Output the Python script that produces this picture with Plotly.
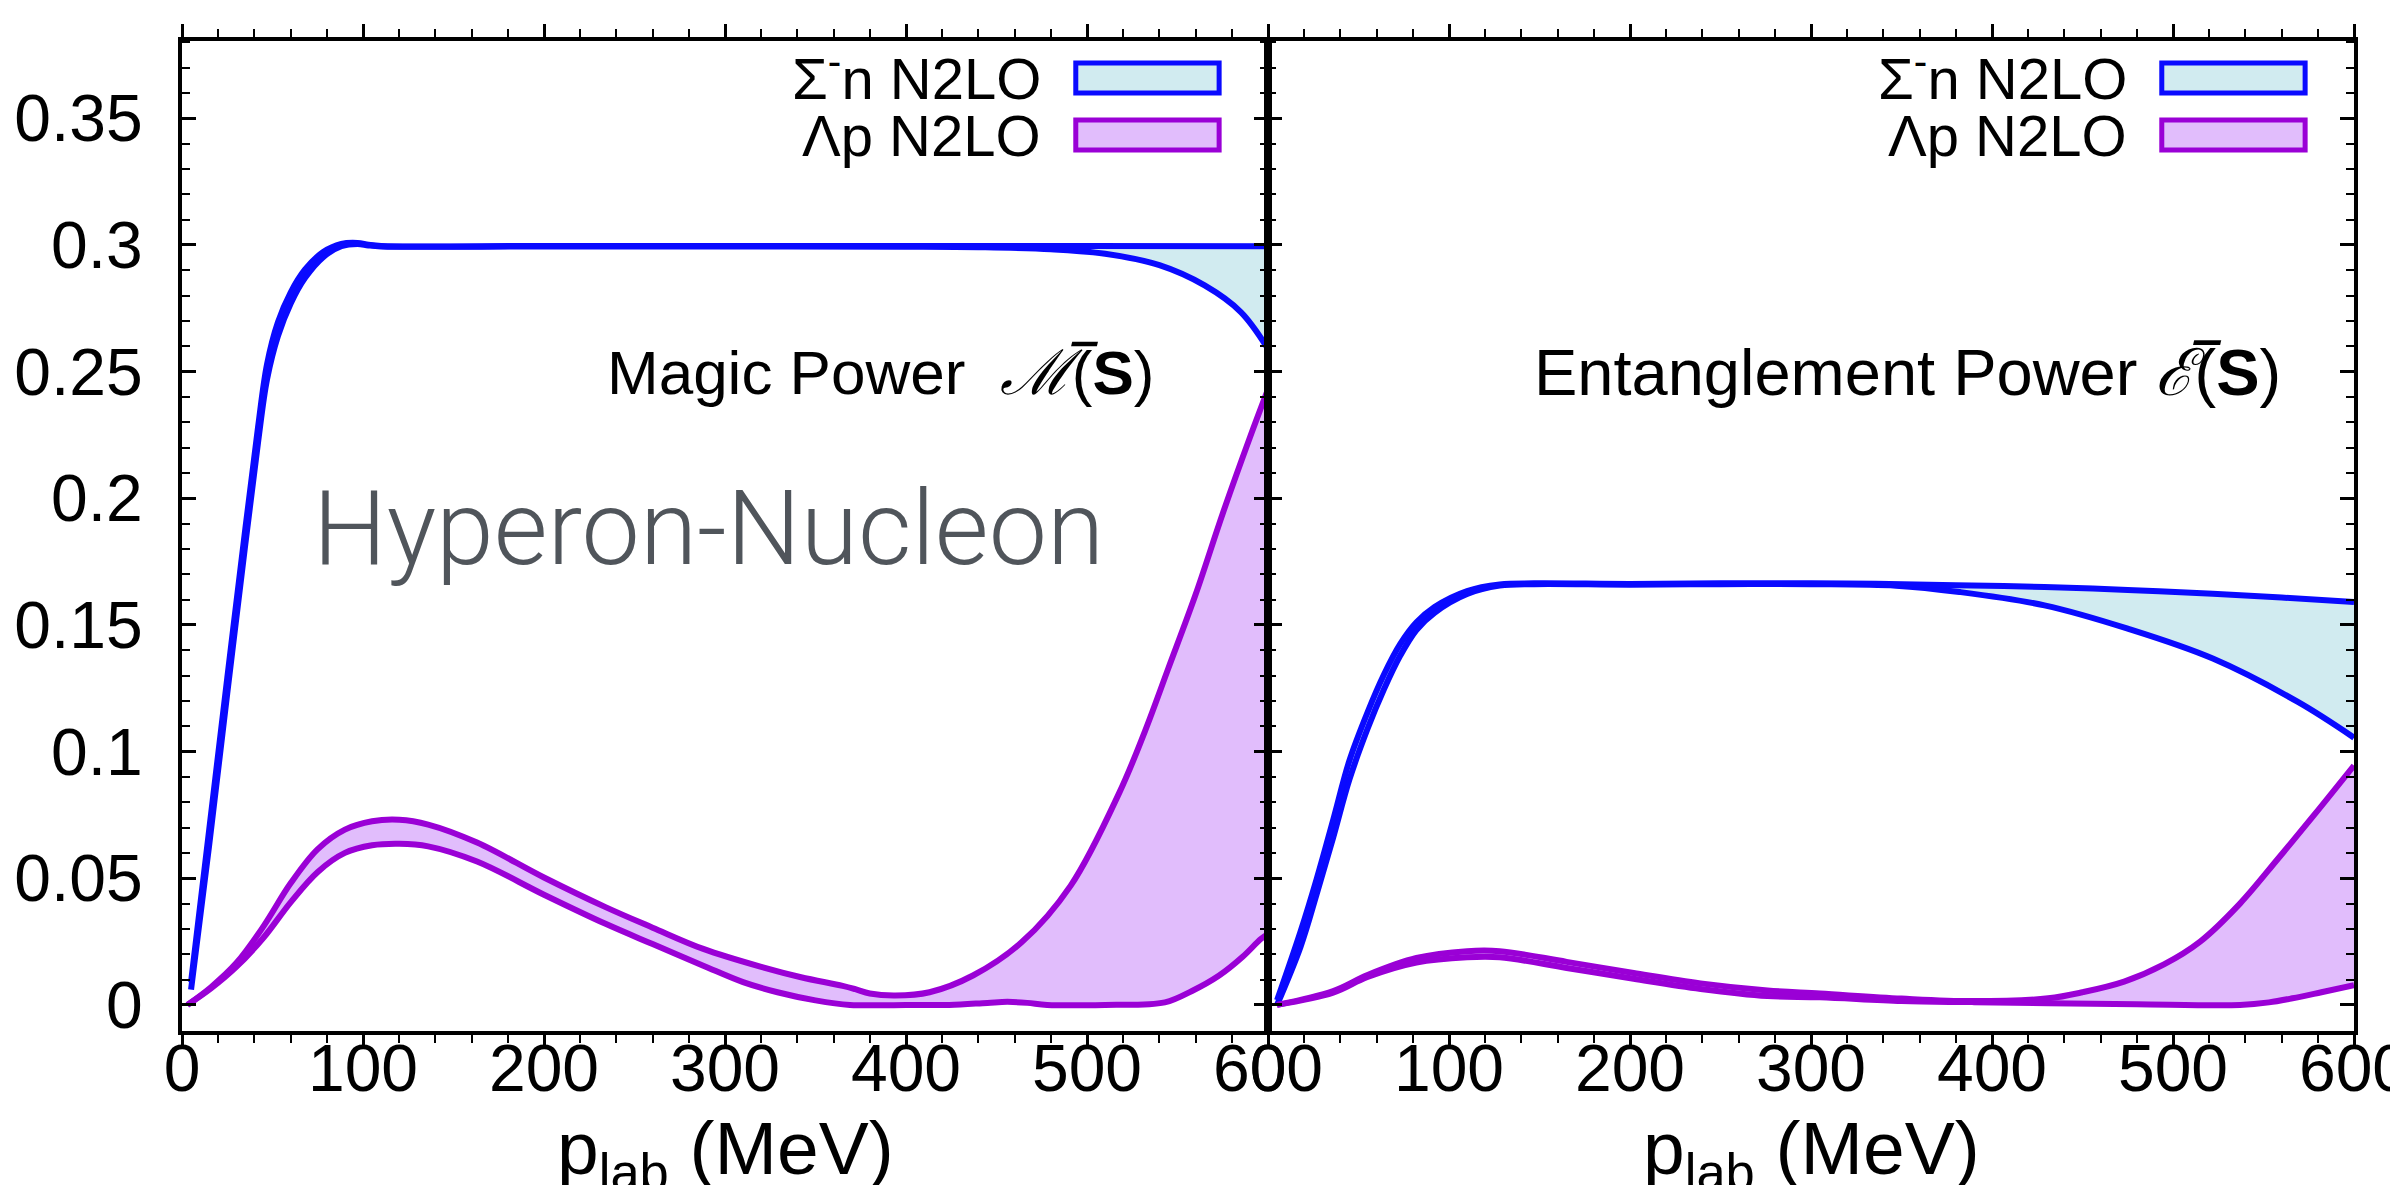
import plotly.graph_objects as go

# ---------------- data ----------------
# Magic power, Sigma^- n band
sig_mp_hi_x = [5, 15, 25, 35, 42, 47, 53, 60, 68, 78, 88, 97, 103, 110, 200, 300, 400, 500, 600]
sig_mp_hi_y = [0.009, 0.069, 0.129, 0.188, 0.228, 0.253, 0.2695, 0.2812, 0.2903, 0.2972, 0.3004, 0.3008,
               0.3001, 0.2996, 0.2996, 0.2996, 0.2996, 0.2996, 0.2995]
sig_mp_lo_x = [5, 15, 25, 35, 42, 47, 53, 60, 68, 78, 88, 97, 103, 110, 200, 300, 400, 440, 480, 510,
               540, 565, 585, 600]
sig_mp_lo_y = [0.006, 0.063, 0.123, 0.182, 0.222, 0.247, 0.264, 0.2768, 0.2870, 0.2952, 0.2995, 0.3004,
               0.2998, 0.2994, 0.2994, 0.2994, 0.2993, 0.2991, 0.2983, 0.2965, 0.292, 0.284, 0.2735, 0.259]

# Magic power, Lambda p band
lam_mp_hi_x = [3, 16, 30, 45, 60, 75, 90, 105, 120, 136, 163, 200, 234, 260, 288, 320, 342, 365, 372,
               380, 394, 413, 437, 464, 491, 518, 532, 545, 560, 575, 590, 600]
lam_mp_hi_y = [0.0, 0.0070, 0.0165, 0.0310, 0.0480, 0.0615, 0.0692, 0.0725, 0.0731, 0.0712, 0.0641,
               0.0503, 0.0386, 0.0305, 0.0221, 0.0150, 0.0109, 0.0075, 0.0062, 0.0045, 0.0037, 0.005,
               0.0116, 0.0248, 0.0471, 0.084, 0.108, 0.133, 0.162, 0.194, 0.224, 0.243]
lam_mp_lo_x = [3, 16, 30, 45, 60, 75, 90, 105, 120, 136, 163, 200, 234, 260, 288, 310, 329, 350, 369,
               400, 424, 445, 456, 467, 478, 510, 543, 558, 573, 586, 596, 600]
lam_mp_lo_y = [0.0, 0.0065, 0.0150, 0.0265, 0.0405, 0.0525, 0.0600, 0.0630, 0.0636, 0.0626, 0.0566,
               0.0435, 0.0320, 0.0240, 0.0155, 0.0090, 0.0050, 0.0018, 0.0, 0.0, 0.0, 0.0008, 0.0012,
               0.0008, 0.0, 0.0, 0.001, 0.0055, 0.0116, 0.019, 0.026, 0.028]

# Entanglement power, Sigma^- n band
sig_ep_hi_x = [5, 18, 27, 36, 45, 55, 64, 73, 82, 92, 110, 128, 147, 200, 250, 300, 336, 380, 429,
               475, 522, 560, 600]
sig_ep_hi_y = [0.0018, 0.029, 0.050, 0.073, 0.0965, 0.1155, 0.1303, 0.1424, 0.1510, 0.1571, 0.1634,
               0.1660, 0.1664, 0.1662, 0.1664, 0.1664, 0.1663, 0.1657, 0.165, 0.1638, 0.1623, 0.1608, 0.159]
sig_ep_lo_x = [5, 18, 27, 36, 45, 55, 64, 73, 82, 92, 110, 128, 147, 200, 250, 300, 347, 382, 429,
               475, 522, 569, 600]
sig_ep_lo_y = [0.0, 0.023, 0.044, 0.066, 0.089, 0.109, 0.1245, 0.1378, 0.1480, 0.1548, 0.1622, 0.1655,
               0.1661, 0.1659, 0.1661, 0.1661, 0.1655, 0.163, 0.1577, 0.1485, 0.1367, 0.1196, 0.1055]

# Entanglement power, Lambda p band
lam_ep_hi_x = [5, 36, 55, 82, 110, 128, 165, 202, 239, 276, 305, 350, 389, 431, 450, 473, 495, 515,
               537, 558, 578, 600]
lam_ep_hi_y = [0.0, 0.0055, 0.0118, 0.0185, 0.0212, 0.0212, 0.0170, 0.0126, 0.0085, 0.0057, 0.0045,
               0.0025, 0.0015, 0.0026, 0.005, 0.0092, 0.016, 0.025, 0.040, 0.0577, 0.075, 0.0945]
lam_ep_lo_x = [5, 36, 55, 82, 110, 128, 165, 202, 239, 276, 305, 350, 389, 431, 480, 537, 553, 566,
               582, 600]
lam_ep_lo_y = [0.0, 0.0048, 0.0110, 0.0167, 0.0188, 0.0188, 0.0146, 0.0103, 0.0063, 0.0035, 0.0030,
               0.0015, 0.0011, 0.0007, 0.0003, 0.0, 0.001, 0.0026, 0.005, 0.0078]

x_ticks = [0, 100, 200, 300, 400, 500, 600]
y_ticks = [0, 0.05, 0.1, 0.15, 0.2, 0.25, 0.3, 0.35]
legend_labels = ["Σ<sup>-</sup>n N2LO", "Λp N2LO"]
x_title = "p<sub>lab</sub> (MeV)"

# ---------------- styles ----------------
BLUE = "#0a0aff"
BLUE_FILL = "#d1ebf0"
PURPLE = "#9a00d6"
PURPLE_FILL = "#e1bdfc"
LW = 6
SMOOTH = 1.0
FONT = "Liberation Sans, Arial, Helvetica, sans-serif"

fig = go.Figure()


def add_band(xlo, ylo, xhi, yhi, fill_color, xa, ya):
    fig.add_trace(go.Scatter(x=xlo, y=ylo, mode="lines", line=dict(width=0, shape="spline", smoothing=SMOOTH),
                             xaxis=xa, yaxis=ya, showlegend=False, hoverinfo="skip"))
    fig.add_trace(go.Scatter(x=xhi, y=yhi, mode="lines", line=dict(width=0, shape="spline", smoothing=SMOOTH),
                             fill="tonexty", fillcolor=fill_color,
                             xaxis=xa, yaxis=ya, showlegend=False, hoverinfo="skip"))


def add_edges(xlo, ylo, xhi, yhi, line_color, xa, ya):
    for xx, yy in ((xlo, ylo), (xhi, yhi)):
        fig.add_trace(go.Scatter(x=xx, y=yy, mode="lines",
                                 line=dict(width=LW, color=line_color, shape="spline", smoothing=SMOOTH),
                                 xaxis=xa, yaxis=ya, showlegend=False))


# fills first
add_band(sig_mp_lo_x, sig_mp_lo_y, sig_mp_hi_x, sig_mp_hi_y, BLUE_FILL, "x", "y")
add_band(lam_mp_lo_x, lam_mp_lo_y, lam_mp_hi_x, lam_mp_hi_y, PURPLE_FILL, "x", "y")
add_band(sig_ep_lo_x, sig_ep_lo_y, sig_ep_hi_x, sig_ep_hi_y, BLUE_FILL, "x2", "y2")
add_band(lam_ep_lo_x, lam_ep_lo_y, lam_ep_hi_x, lam_ep_hi_y, PURPLE_FILL, "x2", "y2")
# then lines
add_edges(sig_mp_lo_x, sig_mp_lo_y, sig_mp_hi_x, sig_mp_hi_y, BLUE, "x", "y")
add_edges(lam_mp_lo_x, lam_mp_lo_y, lam_mp_hi_x, lam_mp_hi_y, PURPLE, "x", "y")
add_edges(sig_ep_lo_x, sig_ep_lo_y, sig_ep_hi_x, sig_ep_hi_y, BLUE, "x2", "y2")
add_edges(lam_ep_lo_x, lam_ep_lo_y, lam_ep_hi_x, lam_ep_hi_y, PURPLE, "x2", "y2")

xaxis_common = dict(range=[0, 600], tickvals=x_ticks, ticks="outside", ticklen=13, tickwidth=3,
                    tickcolor="black", showline=True, linewidth=4, linecolor="black", mirror="ticks",
                    showgrid=False, zeroline=False, automargin=False, ticklabeloverflow="allow",
                    minor=dict(dtick=20, ticks="outside", ticklen=8, tickwidth=2, tickcolor="black",
                               showgrid=False),
                    tickfont=dict(family=FONT, size=66, color="black"), ticklabelstandoff=-36)
yaxis_common = dict(range=[-0.0103, 0.3805], tickvals=y_ticks, ticks="inside", ticklen=14, tickwidth=3,
                    tickcolor="black", showline=True, linewidth=4, linecolor="black", mirror="ticks",
                    showgrid=False, zeroline=False, automargin=False,
                    minor=dict(dtick=0.01, ticks="inside", ticklen=8, tickwidth=2, tickcolor="black",
                               showgrid=False),
                    tickfont=dict(family=FONT, size=66, color="black"))

fig.update_layout(
    width=2398, height=1185,
    margin=dict(l=174, r=52, t=33, b=162),
    paper_bgcolor="white", plot_bgcolor="white",
    showlegend=False,
    xaxis=dict(domain=[0, 0.5], anchor="y", **xaxis_common),
    yaxis=dict(domain=[0, 1], anchor="x", ticklabelstandoff=22, **yaxis_common),
    xaxis2=dict(domain=[0.5, 1], anchor="y2", **xaxis_common),
    yaxis2=dict(domain=[0, 1], anchor="x2", matches="y", showticklabels=False, **yaxis_common),
)

# x-axis titles (paper y is relative to the plotting area)
for xr in ("x domain", "x2 domain"):
    fig.add_annotation(xref=xr, yref="paper", x=0.5, y=-0.124, xanchor="center", yanchor="middle",
                       text=x_title, showarrow=False, font=dict(family=FONT, size=75, color="black"))

# custom legends (text + box samples) in both panels
row_y = [0.966, 0.905]
box_y = [(0.9474, 0.9777), (0.8898, 0.9202)]
colors = [(BLUE, BLUE_FILL), (PURPLE, PURPLE_FILL)]
for xr, yr in (("x domain", "y domain"), ("x2 domain", "y2 domain")):
    for i in range(2):
        fig.add_annotation(xref=xr, yref=yr, x=0.793, y=row_y[i], xanchor="right", yanchor="middle",
                           text=legend_labels[i], showarrow=False,
                           font=dict(family=FONT, size=58, color="black"))
        fig.add_shape(type="rect", xref=xr, yref=yr, x0=0.823, x1=0.955, y0=box_y[i][0], y1=box_y[i][1],
                      line=dict(color=colors[i][0], width=5), fillcolor=colors[i][1], layer="above")

fig.add_annotation(xref="x domain", yref="y domain", x=0.897, y=0.665, xanchor="right", yanchor="middle",
                   text="Magic Power  <i>ℳ\u0305</i>(<b>S</b>)", showarrow=False,
                   font=dict(family=FONT, size=62, color="black"))
fig.add_annotation(xref="x2 domain", yref="y2 domain", x=0.935, y=0.665, xanchor="right", yanchor="middle",
                   text="Entanglement Power <i>ℰ\u0305</i>(<b>S</b>)", showarrow=False,
                   font=dict(family=FONT, size=65, color="black"))
fig.add_annotation(xref="x domain", yref="y domain", x=0.485, y=0.508, xanchor="center", yanchor="middle",
                   text="Hyperon-Nucleon", showarrow=False,
                   font=dict(family="Roboto", size=104, color="#50555b", weight=300))

fig.write_html("out.html")
